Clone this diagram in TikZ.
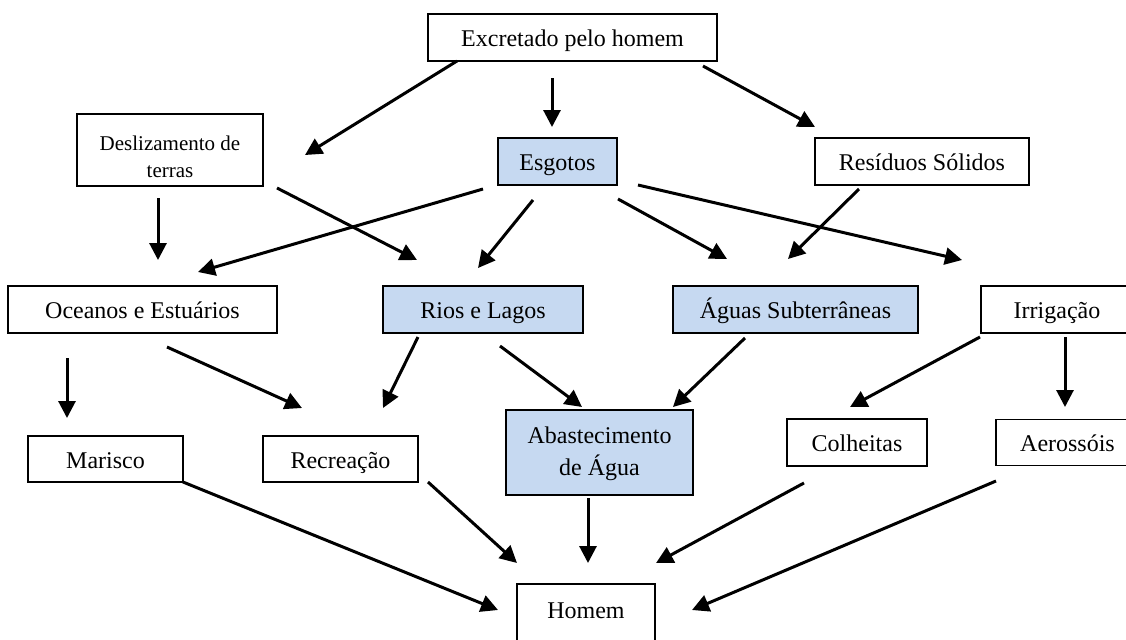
\documentclass[tikz,border=0pt]{standalone}
\usepackage{fontspec}
\setmainfont{Liberation Serif}
\usetikzlibrary{arrows.meta}
\definecolor{boxblue}{HTML}{C6D9F1}
\tikzset{
  box/.style={draw=black, line width=0.9pt, fill=white, inner sep=0pt,
    font=\fontsize{12}{16}\selectfont, text height=9.5pt, text depth=0.5pt},
  bluebox/.style={box, fill=boxblue},
  arr/.style={line width=1.5pt, -{Triangle[length=8.5pt,width=8.5pt]}}
}
\newcommand\twolines[2]{\begin{tabular}{@{}c@{}}#1\\#2\end{tabular}}
\begin{document}
\begin{tikzpicture}[x=0.5pt,y=-0.5pt]
\useasboundingbox (0,0) rectangle (1126,639);
\clip (0,0) rectangle (1126,639);
% nodes
\node[box, minimum width=144.5pt, minimum height=23.5pt] (excr) at (572.5,37.5) {Excretado pelo homem};
\node[box, minimum width=93pt, minimum height=36pt, font=\fontsize{10.5}{13.5}\selectfont,
  text height=20pt, text depth=5.7pt] (desl) at (170,150) {\twolines{Deslizamento de}{terras}};
\node[bluebox, minimum width=59.5pt, minimum height=23.5pt] (esg) at (557.5,161.5) {Esgotos};
\node[box, minimum width=107pt, minimum height=23.5pt] (resid) at (922,161.5) {Resíduos Sólidos};
\node[box, minimum width=134.5pt, minimum height=23.5pt] (ocean) at (142.5,309.5) {Oceanos e Estuários};
\node[bluebox, minimum width=100pt, minimum height=23.5pt] (rios) at (483,309.5) {Rios e Lagos};
\node[bluebox, minimum width=122.5pt, minimum height=23.5pt] (aguas) at (795.5,309.5) {Águas Subterrâneas};
\node[box, minimum width=94.5pt, minimum height=23.5pt] (irrig) at (1075.5,309.5) {Irrigação\hspace*{18.5pt}};
\node[box, minimum width=77.5pt, minimum height=23pt] (maris) at (105.5,459) {Marisco};
\node[box, minimum width=77.5pt, minimum height=23pt] (recre) at (340.5,459) {Recreação};
\node[bluebox, minimum width=93.5pt, minimum height=42.5pt, text height=19pt, text depth=12pt]
  (abast) at (599.5,452.5) {\twolines{Abastecimento}{de Água}};
\node[box, minimum width=70pt, minimum height=23.5pt] (colh) at (857,442.5) {Colheitas};
\node[box, minimum width=87pt, minimum height=23pt] (aeros) at (1083,442.5) {Aerossóis\hspace*{15.5pt}};
\node[box, minimum width=69pt, minimum height=30pt, text height=10pt, text depth=6pt] (homem) at (586,614) {Homem};
% connector end points
\coordinate (excr-desl-s) at (457,61);   \coordinate (excr-desl-e) at (305,155);
\coordinate (excr-esg-s) at (552,78);    \coordinate (excr-esg-e) at (552,127);
\coordinate (excr-resid-s) at (703,66);  \coordinate (excr-resid-e) at (815,127);
\coordinate (desl-ocean-s) at (158,198); \coordinate (desl-ocean-e) at (158,260);
\coordinate (desl-rios-s) at (277,188);  \coordinate (desl-rios-e) at (417,260);
\coordinate (esg-ocean-s) at (483,189);  \coordinate (esg-ocean-e) at (198,272);
\coordinate (esg-rios-s) at (533,200);   \coordinate (esg-rios-e) at (478,268);
\coordinate (esg-aguas-s) at (618,199);  \coordinate (esg-aguas-e) at (727,259);
\coordinate (esg-irrig-s) at (638,185);  \coordinate (esg-irrig-e) at (962,260);
\coordinate (resid-aguas-s) at (859,189);\coordinate (resid-aguas-e) at (788,259);
\coordinate (ocean-maris-s) at (67,358); \coordinate (ocean-maris-e) at (67,418);
\coordinate (ocean-recre-s) at (167,347);\coordinate (ocean-recre-e) at (302,408);
\coordinate (rios-recre-s) at (418,337); \coordinate (rios-recre-e) at (383,408);
\coordinate (rios-abast-s) at (500,346); \coordinate (rios-abast-e) at (582,407);
\coordinate (aguas-abast-s) at (745,338);\coordinate (aguas-abast-e) at (673,407);
\coordinate (irrig-colh-s) at (980,337); \coordinate (irrig-colh-e) at (850,407);
\coordinate (irrig-aeros-s) at (1065,337);\coordinate (irrig-aeros-e) at (1065,407);
\coordinate (maris-homem-s) at (183,482);\coordinate (maris-homem-e) at (498,610);
\coordinate (recre-homem-s) at (428,482);\coordinate (recre-homem-e) at (517,563);
\coordinate (abast-homem-s) at (588,498);\coordinate (abast-homem-e) at (588,563);
\coordinate (colh-homem-s) at (804,483); \coordinate (colh-homem-e) at (656,563);
\coordinate (aeros-homem-s) at (996,481);\coordinate (aeros-homem-e) at (692,610);
% connectors
\foreach \c in {excr-desl,excr-esg,excr-resid,desl-ocean,desl-rios,esg-ocean,esg-rios,
  esg-aguas,esg-irrig,resid-aguas,ocean-maris,ocean-recre,rios-recre,rios-abast,
  aguas-abast,irrig-colh,irrig-aeros,maris-homem,recre-homem,abast-homem,colh-homem,aeros-homem}
  {\draw[arr] (\c-s) -- (\c-e);}
\end{tikzpicture}
\end{document}
